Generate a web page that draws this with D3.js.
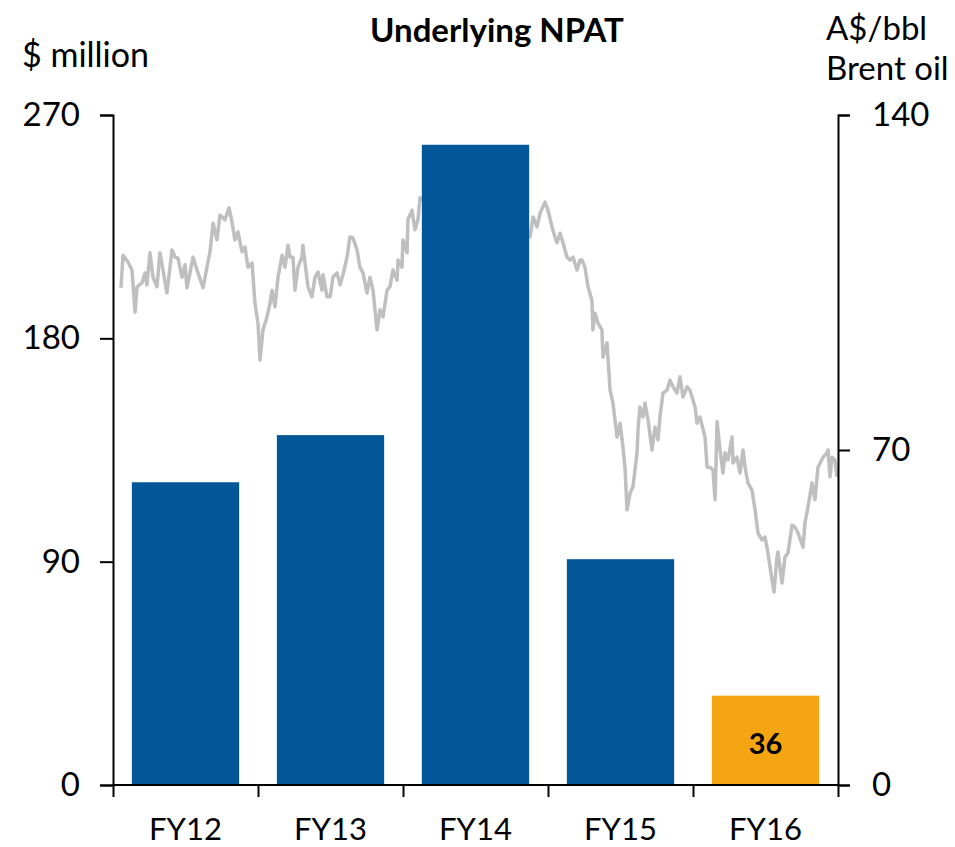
<!DOCTYPE html>
<html>
<head>
<meta charset="utf-8">
<script src="https://cdn.jsdelivr.net/npm/d3@7"></script>
<style>
  body { margin: 0; background: #fff; }
  svg text { font-family: Lato, "Open Sans", sans-serif; fill: #000; }
</style>
</head>
<body>
<svg id="chart" width="955" height="847"></svg>
<script>
// NPAT bars ($ million)
var years = ["FY12", "FY13", "FY14", "FY15", "FY16"];
var npat = [122, 141, 258, 91, 36];
var leftTicks = [0, 90, 180, 270];
var rightTicks = [0, 70, 140];

// Brent oil A$/bbl, x = years since start of FY12
var oilFY = [0.055,0.069,0.103,0.131,0.152,0.166,0.200,0.221,0.234,0.255,0.276,0.303,0.324,0.345,0.372,0.407,0.428,0.448,0.476,0.497,
  0.510,0.531,0.552,0.586,0.621,0.648,0.669,0.690,0.717,0.738,0.772,0.800,0.821,0.841,0.862,0.890,0.910,0.931,0.959,0.979,
  1.000,1.014,1.034,1.062,1.083,1.097,1.117,1.138,1.166,1.186,1.207,1.221,1.241,1.255,1.276,1.303,1.310,1.324,1.345,1.372,
  1.393,1.414,1.441,1.448,1.476,1.497,1.517,1.545,1.566,1.586,1.614,1.634,1.655,1.683,1.703,1.724,1.752,1.772,1.793,1.821,
  1.841,1.862,1.890,1.910,1.931,1.959,1.966,1.993,2.000,2.028,2.034,2.062,2.083,2.103,2.117,
  2.876,2.897,2.924,2.945,2.979,3.000,3.028,3.048,3.062,3.083,3.103,3.131,3.152,3.172,3.200,3.221,3.234,3.255,3.276,3.303,
  3.310,3.324,3.345,3.372,3.379,3.407,3.428,3.448,3.476,3.497,3.517,3.531,3.545,3.566,3.586,3.614,3.621,3.634,3.655,3.669,
  3.690,3.717,3.738,3.759,3.772,3.793,3.821,3.841,3.862,3.890,3.910,3.931,3.959,3.979,4.000,4.014,4.028,4.048,4.083,4.097,
  4.117,4.138,4.152,4.166,4.186,4.207,4.221,4.241,4.269,4.276,4.303,4.324,4.345,4.359,4.379,4.407,4.428,4.448,4.476,4.497,
  4.517,4.545,4.559,4.579,4.586,4.614,4.634,4.655,4.683,4.703,4.724,4.759,4.772,4.793,4.821,4.841,4.862,4.897,4.924,4.931,
  4.945,4.959,4.979,4.993];
var oilPrice = [103.9,110.7,109.3,107.6,98.8,104.1,104.9,107.0,104.5,111.2,106.1,104.1,111.2,107.6,102.8,111.8,110.3,110.1,106.1,108.7,
  103.9,107.0,110.3,107.0,103.9,108.2,111.4,117.4,113.9,119.1,118.1,120.6,117.6,113.9,115.6,111.4,112.4,108.2,109.1,100.7,
  96.5,88.8,95.1,97.8,100.7,103.4,99.9,106.1,110.7,108.2,112.8,110.3,110.3,103.4,108.2,110.3,112.8,109.1,104.1,102.0,
  106.1,107.2,103.4,106.6,102.0,102.0,106.1,107.0,104.5,106.6,110.3,114.5,114.3,111.8,108.2,107.0,102.8,106.1,103.4,95.1,
  99.3,97.8,103.4,104.1,107.6,105.5,109.7,108.2,113.9,111.2,118.1,120.1,116.0,118.1,122.7,
  114.5,118.7,116.6,119.5,121.8,120.1,116.6,114.5,113.3,115.3,113.3,110.3,109.7,110.3,107.6,109.7,109.7,108.2,104.1,101.3,
  95.1,98.6,96.5,95.1,89.4,92.4,82.5,79.8,72.7,75.6,70.6,66.4,57.5,61.0,62.3,69.4,74.2,79.0,76.9,79.8,
  76.3,70.0,74.8,72.1,76.9,81.9,82.5,84.6,83.2,81.9,85.3,81.1,83.2,82.5,80.4,79.0,75.6,76.9,72.7,66.4,
  66.4,65.8,59.6,75.9,70.0,65.2,69.4,67.9,72.7,67.3,68.5,65.2,70.0,66.4,63.1,61.6,57.5,52.7,51.2,51.8,
  48.5,42.8,40.3,47.6,48.7,42.2,47.6,48.5,54.3,53.9,52.7,49.7,54.7,58.1,63.1,59.6,66.4,68.5,69.4,70.0,
  64.4,68.5,67.9,64.4];

var svg = d3.select("#chart");
var plotLeft = 113, plotRight = 838, plotTop = 115, plotBottom = 785;

var x = d3.scaleBand().domain(years).range([plotLeft, plotRight]).paddingInner(0.26).paddingOuter(0.13);
var xt = d3.scaleLinear().domain([0, 5]).range([plotLeft, plotRight]);
var y = d3.scaleLinear().domain([0, 270]).range([plotBottom, plotTop]);
var y2 = d3.scaleLinear().domain([0, 140]).range([plotBottom, plotTop]);

// oil line goes behind the bars
var oil = oilFY.map(function(t, i) { return [t, oilPrice[i]]; });
svg.append("path")
  .datum(oil)
  .attr("fill", "none")
  .attr("stroke", "#BFBFBF")
  .attr("stroke-width", 3.5)
  .attr("stroke-linejoin", "round")
  .attr("d", d3.line().x(function(d) { return xt(d[0]); }).y(function(d) { return y2(d[1]); }));

svg.selectAll("rect.bar")
  .data(npat)
  .enter().append("rect")
  .attr("class", "bar")
  .attr("x", function(d, i) { return x(years[i]); })
  .attr("y", function(d) { return y(d); })
  .attr("width", x.bandwidth())
  .attr("height", function(d) { return y(0) - y(d); })
  .attr("fill", function(d, i) { return i == 4 ? "#F5A511" : "#035799"; });

svg.append("text")
  .attr("x", x("FY16") + x.bandwidth() / 2)
  .attr("y", y(npat[4]) + 58)
  .attr("text-anchor", "middle")
  .style("font-size", "29px")
  .style("font-weight", "bold")
  .text(npat[4]);

// axes
var leftAxis = d3.axisLeft(y).tickValues(leftTicks).tickSize(13).tickPadding(20);
var rightAxis = d3.axisRight(y2).tickValues(rightTicks).tickSize(12).tickPadding(22);
var bottomAxis = d3.axisBottom(xt).tickValues([0, 1, 2, 3, 4, 5]).tickSize(12).tickFormat("");

function styleAxis(g) {
  g.select(".domain").attr("stroke", "#000").attr("stroke-width", 2);
  g.selectAll(".tick line").attr("stroke", "#000").attr("stroke-width", 2);
  g.selectAll("text").style("font-size", "33px").attr("font-family", null);
}

svg.append("g").attr("transform", "translate(" + plotLeft + ",0)").call(leftAxis).call(styleAxis);
svg.append("g").attr("transform", "translate(" + plotRight + ",0)").call(rightAxis).call(styleAxis);
svg.append("g").attr("transform", "translate(0," + plotBottom + ")").call(bottomAxis).call(styleAxis)
  .call(function(g) { g.select(".domain").attr("d", "M" + plotLeft + ",0H" + plotRight); });

svg.selectAll("text.cat")
  .data(years)
  .enter().append("text")
  .attr("class", "cat")
  .attr("x", function(d) { return x(d) + x.bandwidth() / 2; })
  .attr("y", 840)
  .attr("text-anchor", "middle")
  .style("font-size", "31px")
  .text(function(d) { return d; });

// titles
svg.append("text").attr("x", 497).attr("y", 42).attr("text-anchor", "middle")
  .style("font-size", "33px").style("font-weight", "bold").text("Underlying NPAT");
svg.append("text").attr("x", 22).attr("y", 67).style("font-size", "34px").text("$ million");
svg.append("text").attr("x", 826).attr("y", 40).style("font-size", "33px").text("A$/bbl");
svg.append("text").attr("x", 826).attr("y", 80).style("font-size", "33px").text("Brent oil");
</script>
</body>
</html>
